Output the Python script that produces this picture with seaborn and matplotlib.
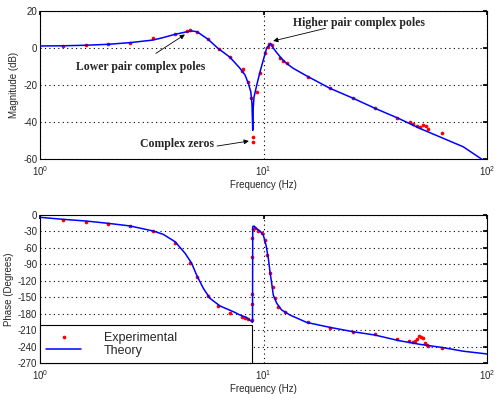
import numpy as np
import pandas as pd
import matplotlib
matplotlib.use("Agg")
import matplotlib.pyplot as plt
import seaborn as sns

# ---------------- data ----------------
# Magnitude, theory
mag_theory_f = [1.0, 1.27, 1.61, 2.02, 2.53, 3.20, 3.55, 4.02, 4.55, 4.79, 5.04, 5.65,
                6.26, 7.08, 7.85, 8.27, 8.55, 8.77, 8.88, 8.95, 9.00, 9.07, 9.33,
                9.65, 9.98, 10.33, 10.77, 11.06, 11.46, 12.06, 12.70, 13.59,
                15.61, 19.84, 25.22, 31.54, 40.11, 50.14, 78.3, 100.0]
mag_theory_db = [1.1, 1.2, 1.5, 2.0, 2.9, 4.3, 5.6, 7.4, 8.8, 9.2, 8.8, 4.7,
                 -0.2, -5.0, -11.0, -14.6, -19.1, -23.6, -30.0, -44.5, -32.0, -26.5, -20.0,
                 -12.8, -6.5, 0.0, 2.5, 0.0, -2.5, -5.8, -8.4, -11.0,
                 -15.1, -21.8, -27.2, -32.6, -38.0, -43.5, -53.4, -62.0]

# Magnitude, experimental
mag_exp_f = [1.27, 1.60, 2.02, 2.53, 3.21, 4.02, 4.53, 4.69, 5.02, 5.66, 6.33, 7.08,
             8.03, 8.12, 8.54, 8.77, 8.95, 8.95, 9.33, 9.65, 10.16, 10.45, 10.62,
             10.95, 11.85, 12.27, 12.70, 15.87, 19.84, 25.06, 31.54, 39.7,
             45.2, 46.8, 48.5, 50.1, 51.9, 53.3, 54.6, 62.7]
mag_exp_db = [1.2, 1.4, 2.0, 2.9, 5.6, 7.4, 9.2, 9.7, 8.8, 4.7, -0.4, -5.0,
              -12.4, -11.5, -18.2, -27.2, -47.9, -50.6, -23.6, -13.3, -2.9, 0.5, 2.1,
              1.6, -5.5, -6.9, -7.9, -15.5, -21.8, -27.2, -32.6, -37.7,
              -40.2, -41.1, -42.2, -42.6, -41.6, -42.2, -43.8, -46.1]

# Phase, theory
ph_theory_f = [1.0, 1.27, 1.60, 2.02, 2.53, 3.21, 3.56, 4.02, 4.46, 4.77, 5.02, 5.38,
               5.76, 6.39, 7.33, 7.85, 8.41, 8.70, 8.86, 8.93, 8.95, 9.07, 9.26, 9.65,
               9.98, 10.26, 10.51, 10.69, 10.88, 11.06, 11.46, 12.06, 13.14,
               15.61, 19.84, 25.22, 31.54, 40.11, 50.14, 63.8, 78.3, 100.0]
ph_theory_deg = [-4.2, -7.9, -10.9, -15.2, -20.0, -29.2, -35.3, -48.7, -70.0, -88.0, -109.5, -133.8,
                 -152.0, -166.0, -176.4, -182.5, -187.0, -192.0, -194.5, -195.8, -21.3, -20.0, -24.3, -29.2,
                 -36.5, -54.7, -79.0, -103.4, -124.6, -146.0, -161.0, -173.3, -182.5,
                 -196.0, -205.0, -213.0, -219.0, -229.0, -236.0, -242.0, -248.5, -253.5]

# Phase, experimental
ph_exp_f = [1.27, 1.60, 2.02, 2.53, 3.21, 4.02, 4.69, 5.02, 5.66, 6.28, 7.08,
            7.99, 8.27, 8.55, 8.86, 8.91, 8.91, 8.91, 8.91, 8.93,
            9.16, 9.48, 9.82, 10.16, 10.40, 10.69, 11.0, 11.26, 11.65, 12.48,
            15.87, 19.84, 25.06, 31.54, 39.7,
            44.9, 46.5, 47.6, 48.8, 49.8, 50.7, 51.9, 52.8, 53.7, 54.6, 63.1]
ph_exp_deg = [-9.1, -13.4, -16.4, -20.0, -29.2, -50.5, -87.0, -112.5, -147.8, -166.0, -178.3,
              -186.7, -188.5, -190.3, -191.6, -163.0, -144.0, -76.0, -42.6, -25.0,
              -24.3, -29.2, -33.5, -45.6, -73.0, -106.4, -130.8, -152.0, -167.3, -176.4,
              -194.7, -205.6, -212.9, -217.7, -226.8,
              -230.0, -231.2, -229.3, -226.8, -220.8, -223.2, -223.8, -232.9, -237.2, -239.0, -243.2]

mag_ticks = [20, 0, -20, -40, -60]
ph_ticks = [0, -30, -60, -90, -120, -150, -180, -210, -240, -270]

# ---------------- plotting ----------------
sns.set_theme(style="white")
plt.rcParams['font.family'] = ['Liberation Sans', 'DejaVu Sans']
plt.rcParams['axes.unicode_minus'] = False

fig = plt.figure(figsize=(5.0, 3.94), dpi=100)
ax1 = fig.add_axes([0.08, 1 - 159 / 394, 0.894, 148 / 394])
ax2 = fig.add_axes([0.08, 1 - 363 / 394, 0.894, 148 / 394])

mag_t = pd.DataFrame({"f": mag_theory_f, "v": mag_theory_db})
mag_e = pd.DataFrame({"f": mag_exp_f, "v": mag_exp_db})
ph_t = pd.DataFrame({"f": ph_theory_f, "v": ph_theory_deg})
ph_e = pd.DataFrame({"f": ph_exp_f, "v": ph_exp_deg})

for ax, dt, de, ticks, ylab in [(ax1, mag_t, mag_e, mag_ticks, "Magnitude (dB)"),
                                 (ax2, ph_t, ph_e, ph_ticks, "Phase (Degrees)")]:
    ax.set_xscale("log")
    sns.scatterplot(data=de, x="f", y="v", ax=ax, color="red", marker="o", s=7,
                    linewidth=0, zorder=3, label="Experimental")
    sns.lineplot(data=dt, x="f", y="v", ax=ax, color="blue", lw=1.1, sort=False,
                 estimator=None, zorder=4, label="Theory")
    ax.set_xlim(1, 100)
    ax.set_ylim(min(ticks), max(ticks))
    ax.set_yticks(ticks)
    ax.set_xticks([1, 10, 100])
    ax.xaxis.set_minor_locator(matplotlib.ticker.NullLocator())
    ax.grid(True, which="major", linestyle=(0, (1, 3)), color="black", lw=0.8)
    ax.set_axisbelow(True)
    ax.tick_params(direction="in", top=True, right=True, labelsize=7, length=3,
                   color="black", pad=2)
    ax.tick_params(axis="x", pad=4)
    for s in ax.spines.values():
        s.set_color("black")
        s.set_linewidth(0.8)
    ax.set_xlabel("Frequency (Hz)", fontsize=7, labelpad=1)
    ax.set_ylabel(ylab, fontsize=7, labelpad=3)
    if ax.get_legend() is not None:
        ax.get_legend().remove()

# legend in phase plot
h, l = ax2.get_legend_handles_labels()
leg = ax2.legend(h, l, loc="lower left", bbox_to_anchor=(0, 0, 0.474, 0.27),
                 mode="expand", fontsize=9, frameon=True, fancybox=False,
                 edgecolor="black", framealpha=1, borderpad=0.5, labelspacing=0.1,
                 handlelength=2.8, handletextpad=1.8, borderaxespad=0)
leg.get_frame().set_linewidth(0.8)
leg.set_zorder(5)

# annotations
serif = dict(family=["Liberation Serif", "DejaVu Serif"], fontsize=8.5, fontweight="bold")
arrow = dict(arrowstyle="-|>", color="black", lw=0.6, mutation_scale=7,
             shrinkA=0, shrinkB=0)
ax1.text(1.45, -10.3, "Lower pair complex poles", ha="left", va="center", **serif)
ax1.annotate("", xy=(4.45, 7.3), xytext=(3.3, -2.9), arrowprops=arrow)
ax1.text(2.80, -51.9, "Complex zeros", ha="left", va="center", **serif)
ax1.annotate("", xy=(8.6, -50.3), xytext=(6.2, -53.0), arrowprops=arrow)
ax1.text(13.5, 13.7, "Higher pair complex poles", ha="left", va="center", **serif)
ax1.annotate("", xy=(11.05, 3.8), xytext=(18.9, 10.6), arrowprops=arrow)

fig.savefig("out.png", dpi=100)
